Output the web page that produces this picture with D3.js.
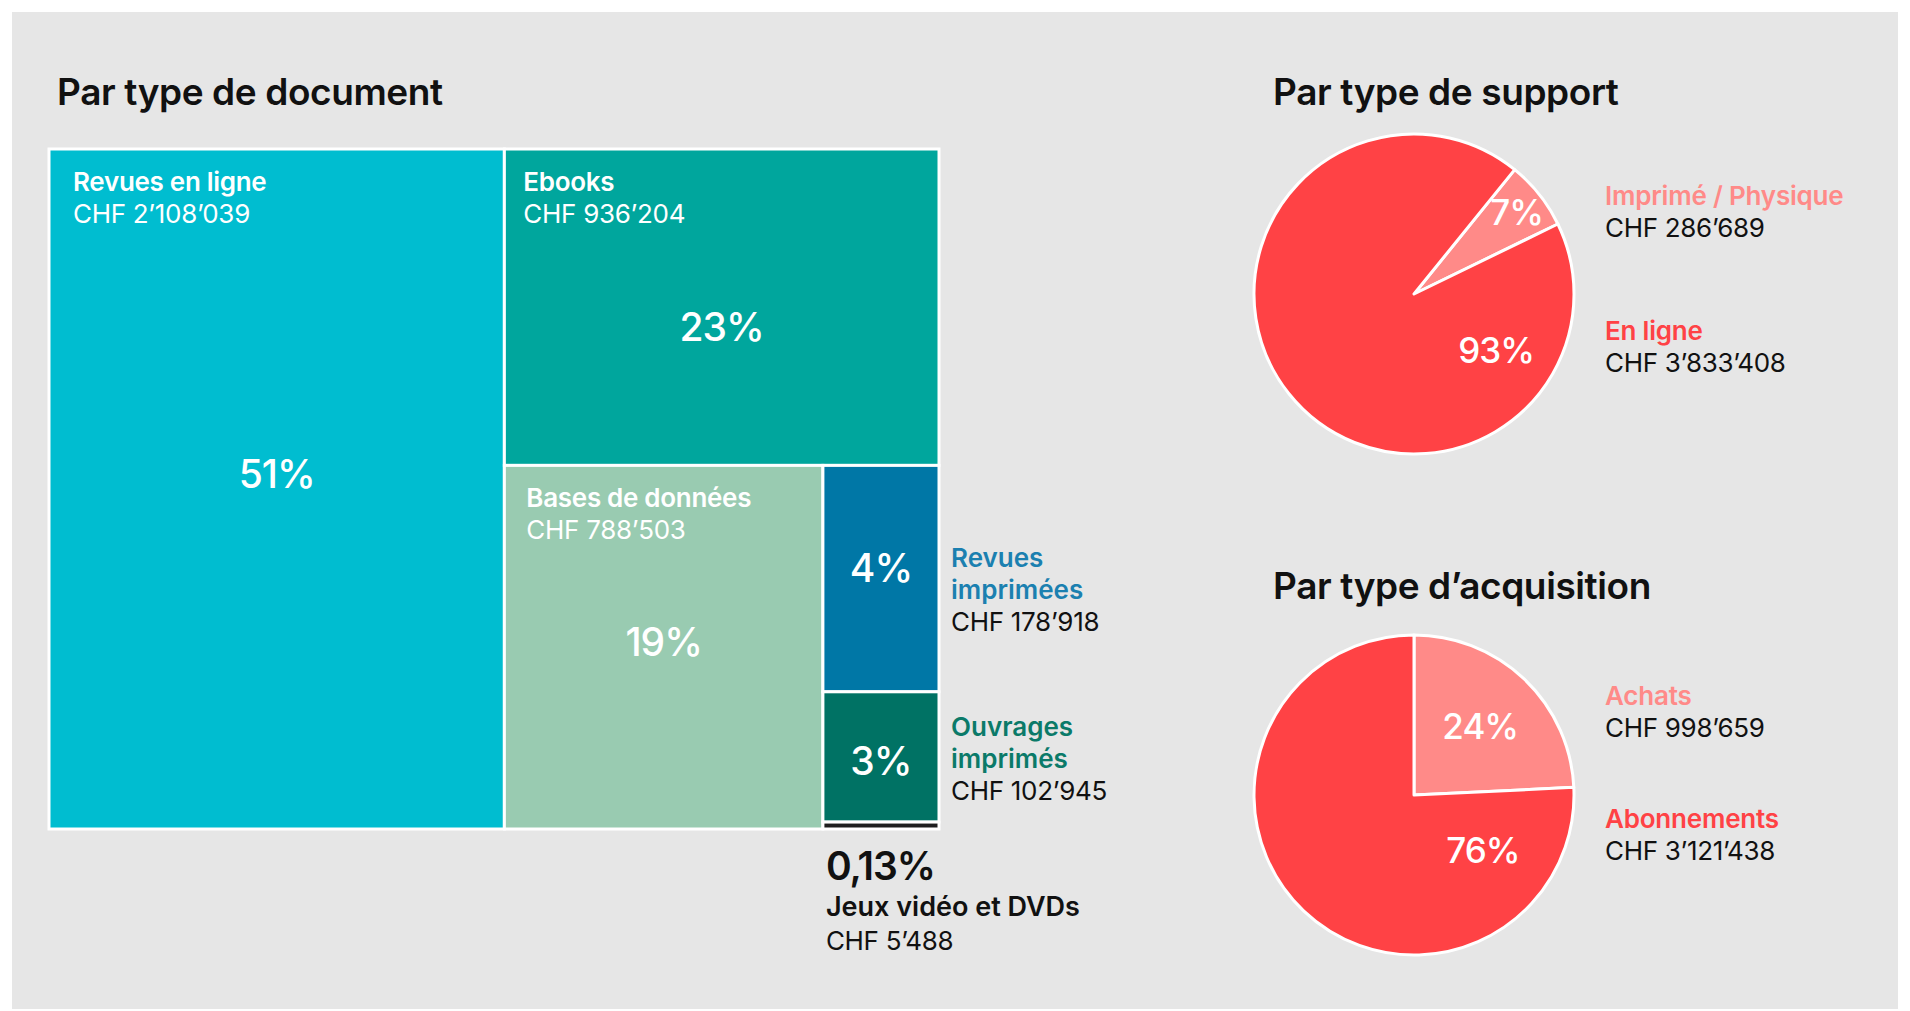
<!DOCTYPE html>
<html><head><meta charset="utf-8">
<script src="https://cdn.jsdelivr.net/npm/d3@7"></script>
<style>
body{margin:0;background:#fff;}
svg{display:block;font-family:Inter,"Noto Sans",sans-serif;}
</style>
</head><body><svg id="c" width="1910" height="1011"></svg>
<script>
// ---------- DATA ----------
const docCategories = ["Revues en ligne","Ebooks","Bases de données","Revues imprimées","Ouvrages imprimés","Jeux vidéo et DVDs"];
const docValues = [2108039,936204,788503,178918,102945,5488];
const docPercentLabels = ["51%","23%","19%","4%","3%","0,13%"];

const supportCategories = ["Imprimé / Physique","En ligne"];
const supportValues = [286689,3833408];
const supportPercentLabels = ["7%","93%"];

const acqCategories = ["Achats","Abonnements"];
const acqValues = [998659,3121438];
const acqPercentLabels = ["24%","76%"];

const titles = ["Par type de document","Par type de support","Par type d’acquisition"];

// ---------- STYLE ----------
const docColors = ["#00BDD0","#00A69D","#99CBB1","#0077A6","#007264","#1e1e1e"];
const docLabelColors = ["#fff","#fff","#fff","#1B80B0","#0B7A69","#111"];
const pieColors = ["#FF8A88","#FF4245"];
const loc = d3.formatLocale({decimal:",",thousands:"’",grouping:[3],currency:["CHF ",""]});
const fmt = v => "CHF " + loc.format(",")(v);
const FS = 26;

const svg = d3.select("#c");
svg.append("rect").attr("x",12).attr("y",12).attr("width",1886).attr("height",997).attr("fill","#E6E6E6");

// titles
const titlePos = [[57,105],[1273,105],[1273,599]];
svg.selectAll("text.title").data(titles).join("text").attr("class","title")
  .attr("x",(d,i)=>titlePos[i][0]).attr("y",(d,i)=>titlePos[i][1])
  .attr("font-size",37).attr("font-weight",600).attr("fill","#111").attr("letter-spacing",-0.4)
  .text(d=>d);

// ---------- TREEMAP ----------
const TX=49, TY=149, TW=890, TH=680;
const docData = docCategories.map((c,i)=>({name:c,value:docValues[i],pct:docPercentLabels[i],color:docColors[i],lc:docLabelColors[i]}));
const root = d3.hierarchy({children:docData}).sum(d=>d.value||0);
d3.treemap().tile(d3.treemapSquarify.ratio(1)).size([TW,TH])(root);
const g = svg.append("g").attr("transform",`translate(${TX},${TY})`);
const leaves = root.leaves();
g.selectAll("rect").data(leaves).join("rect")
  .attr("x",d=>d.x0).attr("y",d=>d.y0).attr("width",d=>d.x1-d.x0).attr("height",d=>d.y1-d.y0)
  .attr("fill",d=>d.data.color).attr("stroke","#fff").attr("stroke-width",3);

const pctDy = {"Revues en ligne":-16,"Ebooks":19,"Bases de données":-6,"Revues imprimées":-11,"Ouvrages imprimés":4};
const sideDy = {"Revues imprimées":-12,"Ouvrages imprimés":-21};
const labelDx = {"Revues en ligne":24,"Ebooks":19,"Bases de données":22};
leaves.forEach((d,i)=>{
  const cx=(d.x0+d.x1)/2, cy=(d.y0+d.y1)/2;
  if (i<3) {
    const lx = d.x0 + labelDx[d.data.name];
    g.append("text").attr("x",lx).attr("y",d.y0+42).attr("fill","#fff")
      .attr("font-size",FS).attr("font-weight",600).attr("letter-spacing",-0.3).text(d.data.name);
    g.append("text").attr("x",lx).attr("y",d.y0+74).attr("fill","#fff")
      .attr("font-size",FS).attr("font-weight",400).attr("letter-spacing",-0.3).text(fmt(d.data.value));
  }
  if (i<5) {
    g.append("text").attr("x",cx).attr("y",cy+(pctDy[d.data.name]||0)).attr("fill","#fff")
      .attr("text-anchor","middle").attr("dominant-baseline","central")
      .attr("font-size",39).attr("font-weight",500).attr("letter-spacing",-1).text(d.data.pct);
  }
  if (i===3 || i===4) {
    const words = d.data.name.split(" ");
    const y0 = cy + sideDy[d.data.name];
    words.forEach((wd,k)=>{
      g.append("text").attr("x",d.x1+12).attr("y",y0+k*32).attr("fill",d.data.lc)
        .attr("font-size",FS).attr("font-weight",600).text(wd);
    });
    g.append("text").attr("x",d.x1+12).attr("y",y0+words.length*32).attr("fill","#111")
      .attr("font-size",FS).attr("font-weight",400).attr("letter-spacing",-0.3).text(fmt(d.data.value));
  }
  if (i===5) {
    g.append("text").attr("x",d.x0+3).attr("y",d.y1+51).attr("fill","#111")
      .attr("font-size",39).attr("font-weight",600).attr("letter-spacing",-1).text(d.data.pct);
    g.append("text").attr("x",d.x0+3).attr("y",d.y1+87).attr("fill","#111")
      .attr("font-size",27).attr("font-weight",600).text(d.data.name);
    g.append("text").attr("x",d.x0+3).attr("y",d.y1+121).attr("fill","#111")
      .attr("font-size",FS).attr("font-weight",400).attr("letter-spacing",-0.3).text(fmt(d.data.value));
  }
});

// ---------- PIES ----------
function drawPie(cx, cy, r, cats, vals, pcts, startDeg, labelPlace, legendX, legendYs) {
  const data = cats.map((c,i)=>({name:c,value:vals[i],pct:pcts[i],color:pieColors[i]}));
  const s = startDeg*Math.PI/180;
  const arcs = d3.pie().sort(null).value(d=>d.value).startAngle(s).endAngle(s+2*Math.PI)(data);
  const arc = d3.arc().innerRadius(0).outerRadius(r);
  const pg = svg.append("g").attr("transform",`translate(${cx},${cy})`);
  pg.selectAll("path").data(arcs).join("path").attr("d",arc)
    .attr("fill",d=>d.data.color).attr("stroke","#fff").attr("stroke-width",3).attr("stroke-linejoin","round");
  arcs.forEach((a,i)=>{
    const [ang, rr] = labelPlace(a,i);
    const x = Math.sin(ang)*rr*r, y = -Math.cos(ang)*rr*r;
    pg.append("text").attr("x",x).attr("y",y).attr("text-anchor","middle").attr("dominant-baseline","central")
      .attr("fill","#fff").attr("font-size",35).attr("font-weight",500).attr("letter-spacing",-1).text(a.data.pct);
    svg.append("text").attr("x",legendX).attr("y",legendYs[i]).attr("fill",a.data.color)
      .attr("font-size",FS).attr("font-weight",600).attr("letter-spacing",-0.2).text(a.data.name);
    svg.append("text").attr("x",legendX).attr("y",legendYs[i]+32).attr("fill","#111")
      .attr("font-size",FS).attr("font-weight",400).attr("letter-spacing",-0.3).text(fmt(a.data.value));
  });
}
drawPie(1414,294,160,supportCategories,supportValues,supportPercentLabels,39,
  (a,i)=> i===0 ? [(a.startAngle+a.endAngle)/2, 0.82] : [a.startAngle+1.05, 0.62],
  1605,[205,340]);
drawPie(1414,795,160,acqCategories,acqValues,acqPercentLabels,0,
  (a,i)=> i===0 ? [(a.startAngle+a.endAngle)/2, 0.6] : [a.startAngle+0.72, 0.55],
  1605,[705,828]);
</script></body></html>
